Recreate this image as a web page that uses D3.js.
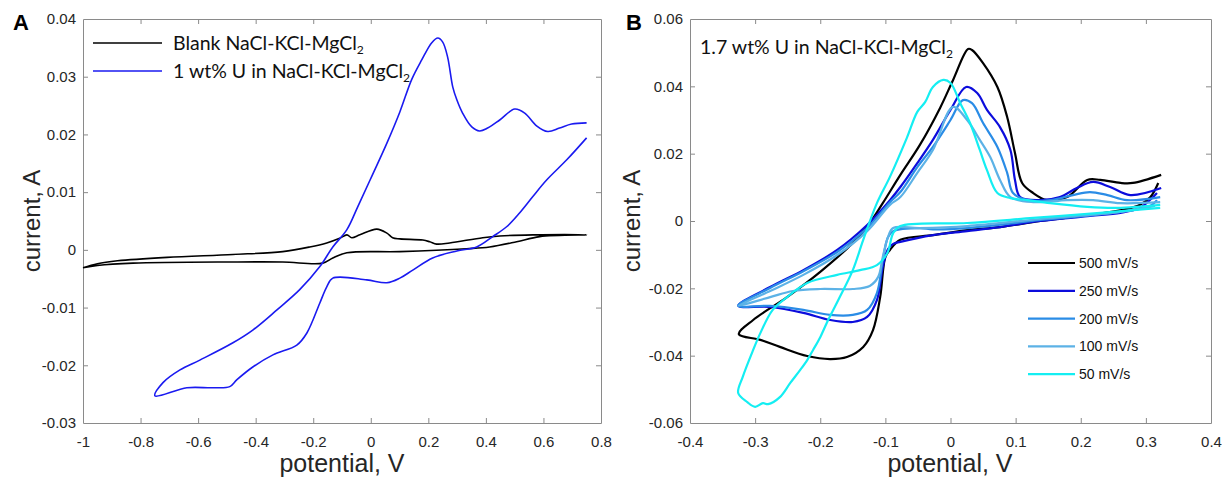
<!DOCTYPE html>
<html>
<head>
<meta charset="utf-8">
<script src="https://cdn.jsdelivr.net/npm/d3@7"></script>
<style>
  html, body { margin: 0; padding: 0; background: #fff; }
  svg { display: block; }
  .tick text { font-family: "Liberation Sans", Arial, sans-serif; font-size: 15px; fill: #262626; }
  .domain, .tick line { stroke: #8a8a8a; }
</style>
</head>
<body>
<div id="chart"></div>
<script>
// ---- panel A : blank salt vs 1 wt% U ----
const aTicksX = [-1, -0.8, -0.6, -0.4, -0.2, 0, 0.2, 0.4, 0.6, 0.8];
const aTicksY = [-0.03, -0.02, -0.01, 0, 0.01, 0.02, 0.03, 0.04];

const aBlankV = [-1.0, -0.95, -0.88, -0.708, -0.479, -0.306, -0.212, -0.153, -0.108, -0.083, -0.066, -0.038, 0.021, 0.056, 0.076, 0.101, 0.181, 0.205, 0.229, 0.274, 0.389, 0.448, 0.5625, 0.75,
                 0.587, 0.507, 0.413, 0.333, 0.101, -0.083, -0.132, -0.167, -0.306, -0.479, -0.826, -0.95, -1.0];
const aBlankI = [-0.0031, -0.0024, -0.0019, -0.0013, -0.0008, -0.0003, 0.0005, 0.0012, 0.0020, 0.0026, 0.0021, 0.0026, 0.0036, 0.0029, 0.0021, 0.0019, 0.0017, 0.0014, 0.0010, 0.0012, 0.0021, 0.0024, 0.0026, 0.0026,
                 0.0023, 0.0014, 0.0005, 0.0002, -0.0003, -0.0005, -0.0014, -0.0023, -0.0021, -0.0021, -0.0023, -0.0027, -0.0031];

const aUV = [0.75, 0.681, 0.611, 0.5625, 0.517, 0.472, 0.424, 0.368, 0.299, 0.215, 0.146, 0.101, 0.056, -0.014, -0.132, -0.153, -0.177, -0.222, -0.257, -0.340, -0.410, -0.465, -0.490, -0.549, -0.639, -0.75,
             -0.722, -0.663, -0.594, -0.479, -0.410, -0.326, -0.247, -0.177, -0.132, -0.083, -0.045, 0.003, 0.056, 0.101, 0.142, 0.177, 0.212, 0.233, 0.250, 0.267, 0.285, 0.299, 0.319, 0.351, 0.378, 0.406, 0.448, 0.500, 0.535, 0.576, 0.615, 0.656, 0.698, 0.75];
const aUI = [0.0194, 0.0156, 0.0121, 0.0092, 0.0064, 0.0040, 0.0023, 0.0005, -0.0002, -0.0014, -0.0035, -0.0049, -0.0057, -0.0052, -0.0049, -0.0064, -0.0092, -0.0144, -0.0165, -0.0182, -0.0203, -0.0225, -0.0237, -0.0239, -0.0239, -0.0253,
             -0.0230, -0.0208, -0.0191, -0.0161, -0.0139, -0.0104, -0.0069, -0.0029, 0.0005, 0.0035, 0.0075, 0.0127, 0.0185, 0.0239, 0.0295, 0.0329, 0.0359, 0.0367, 0.0360, 0.0334, 0.0282, 0.0260, 0.0237, 0.0213, 0.0206, 0.0211, 0.0225, 0.0244, 0.0237, 0.0215, 0.0205, 0.0211, 0.0218, 0.0220];

// ---- panel B : 1.7 wt% U, scan rates ----
const bTicksX = [-0.4, -0.3, -0.2, -0.1, 0, 0.1, 0.2, 0.3, 0.4];
const bTicksY = [-0.06, -0.04, -0.02, 0, 0.02, 0.04, 0.06];
const scanRates = ["500 mV/s", "250 mV/s", "200 mV/s", "100 mV/s", "50 mV/s"];
const scanColors = ["#000000", "#0c0cdc", "#2a8ce6", "#5cb2e6", "#14eef2"];

const b500V = [0.319, 0.307, 0.291, 0.265, 0.214, 0.138, 0.076, 0.0255, -0.027, -0.077, -0.093, -0.100, -0.108, -0.119, -0.134, -0.159, -0.185, -0.220, -0.262, -0.292, -0.325,
               -0.303, -0.251, -0.200, -0.150, -0.124, -0.104, -0.077, -0.047, -0.016, 0.004, 0.027, 0.033, 0.050, 0.072, 0.087, 0.099, 0.110, 0.127, 0.148, 0.179, 0.210, 0.230, 0.261, 0.280, 0.3235];
const b500I = [0.0113, 0.0071, 0.0048, 0.0033, 0.0018, 0.0000, -0.0018, -0.0027, -0.0042, -0.0056, -0.0086, -0.0107, -0.0226, -0.0324, -0.0374, -0.0404, -0.0410, -0.0401, -0.0374, -0.0353, -0.0336,
               -0.0294, -0.0226, -0.0151, -0.0065, -0.0006, 0.0053, 0.0137, 0.0226, 0.0336, 0.0419, 0.0511, 0.0508, 0.0469, 0.0398, 0.0309, 0.0202, 0.0113, 0.0083, 0.0062, 0.0071, 0.0122, 0.0122, 0.0113, 0.0113, 0.0137];

const b250V = [0.317, 0.311, 0.291, 0.261, 0.214, 0.138, 0.076, 0.0255, -0.027, -0.077, -0.088, -0.096, -0.104, -0.113, -0.128, -0.150, -0.185, -0.226, -0.277, -0.326,
               -0.277, -0.226, -0.174, -0.128, -0.093, -0.077, -0.051, -0.027, 0.000, 0.024, 0.041, 0.056, 0.076, 0.092, 0.099, 0.107, 0.138, 0.168, 0.194, 0.219, 0.245, 0.276, 0.3235];
const b250I = [0.0083, 0.0071, 0.0039, 0.0024, 0.0015, 0.0000, -0.0018, -0.0030, -0.0042, -0.0062, -0.0068, -0.0083, -0.0137, -0.0235, -0.0285, -0.0300, -0.0294, -0.0273, -0.0255, -0.0252,
               -0.0196, -0.0146, -0.0086, -0.0012, 0.0062, 0.0101, 0.0172, 0.0241, 0.0330, 0.0398, 0.0380, 0.0330, 0.0279, 0.0211, 0.0122, 0.0071, 0.0062, 0.0071, 0.0098, 0.0116, 0.0101, 0.0077, 0.0098];

const b200V = [0.317, 0.307, 0.261, 0.138, 0.0255, -0.027, -0.047, -0.088, -0.096, -0.104, -0.113, -0.128, -0.150, -0.185, -0.226, -0.277, -0.326,
               -0.277, -0.226, -0.174, -0.128, -0.093, -0.077, -0.051, -0.027, 0.000, 0.019, 0.033, 0.050, 0.072, 0.087, 0.096, 0.118, 0.153, 0.188, 0.214, 0.241, 0.271, 0.322];
const b200I = [0.0062, 0.0045, 0.0027, 0.0003, -0.0021, -0.0025, -0.0021, -0.0030, -0.0048, -0.0116, -0.0214, -0.0264, -0.0279, -0.0279, -0.0264, -0.0252, -0.0252,
               -0.0199, -0.0149, -0.0092, -0.0021, 0.0056, 0.0086, 0.0160, 0.0220, 0.0300, 0.0359, 0.0350, 0.0291, 0.0220, 0.0143, 0.0083, 0.0062, 0.0062, 0.0077, 0.0086, 0.0077, 0.0062, 0.0071];

const b100V = [0.314, 0.261, 0.138, 0.0255, -0.047, -0.088, -0.096, -0.104, -0.111, -0.124, -0.150, -0.200, -0.242, -0.277, -0.326,
               -0.277, -0.226, -0.174, -0.128, -0.093, -0.077, -0.051, -0.027, 0.004, 0.0255, 0.045, 0.061, 0.076, 0.092, 0.127, 0.179, 0.219, 0.261, 0.322];
const b100I = [0.0045, 0.0027, 0.0006, -0.0015, -0.0021, -0.0021, -0.0048, -0.0107, -0.0166, -0.0193, -0.0202, -0.0202, -0.0208, -0.0226, -0.0252,
               -0.0208, -0.0160, -0.0101, -0.0030, 0.0048, 0.0071, 0.0143, 0.0211, 0.0339, 0.0300, 0.0241, 0.0190, 0.0122, 0.0071, 0.0056, 0.0062, 0.0062, 0.0053, 0.0056];

const b50V = [0.322, 0.230, 0.127, 0.0255, -0.077, -0.088, -0.097, -0.113, -0.139, -0.174, -0.220, -0.251, -0.273, -0.292, -0.303, -0.319, -0.326,
              -0.312, -0.300, -0.288, -0.280, -0.262, -0.246, -0.231, -0.220, -0.211, -0.200, -0.190, -0.170, -0.150, -0.134, -0.113, -0.093, -0.067, -0.051, -0.039, -0.027, -0.011, 0.000, 0.015, 0.030, 0.045, 0.056, 0.072, 0.092, 0.118, 0.153, 0.210, 0.256, 0.322];
const b50I = [0.0039, 0.0024, 0.0009, -0.0006, -0.0015, -0.0036, -0.0095, -0.0131, -0.0146, -0.0160, -0.0184, -0.0226, -0.0264, -0.0333, -0.0383, -0.0463, -0.0511,
              -0.0538, -0.0552, -0.0541, -0.0544, -0.0523, -0.0481, -0.0443, -0.0413, -0.0383, -0.0345, -0.0303, -0.0226, -0.0146, -0.0056, 0.0053, 0.0131, 0.0247, 0.0324, 0.0353, 0.0398, 0.0419, 0.0410, 0.0350, 0.0291, 0.0211, 0.0151, 0.0083, 0.0068, 0.0062, 0.0053, 0.0042, 0.0039, 0.0048];

const bSeriesV = [b500V, b250V, b200V, b100V, b50V];
const bSeriesI = [b500I, b250I, b200I, b100I, b50I];

const width = 1222, height = 479;
const svg = d3.select("#chart").append("svg").attr("width", width).attr("height", height);

const zip = (v, i) => v.map((d, k) => [d, i[k]]);
const labelFont = '"Liberation Sans", Arial, sans-serif';
const legendFont = 'Lato, "Open Sans", sans-serif';
// plain hyphen for negatives, like the original figure
const fmt = d => String(+d.toFixed(2));

function drawAxes(x, y, ticksX, ticksY) {
  const g = svg.append("g");
  const bottom = y.range()[0], top = y.range()[1];
  const left = x.range()[0], right = x.range()[1];
  g.append("g").attr("transform", `translate(0,${bottom})`)
    .call(d3.axisBottom(x).tickValues(ticksX).tickSizeInner(-5).tickSizeOuter(0).tickPadding(13).tickFormat(fmt));
  g.append("g").attr("transform", `translate(0,${top})`)
    .call(d3.axisTop(x).tickValues(ticksX).tickSizeInner(-5).tickSizeOuter(0).tickFormat(""));
  g.append("g").attr("transform", `translate(${left},0)`)
    .call(d3.axisLeft(y).tickValues(ticksY).tickSizeInner(-5).tickSizeOuter(0).tickPadding(7).tickFormat(fmt));
  g.append("g").attr("transform", `translate(${right},0)`)
    .call(d3.axisRight(y).tickValues(ticksY).tickSizeInner(-5).tickSizeOuter(0).tickFormat(""));
  // drop tick marks that sit on the frame corners
  g.selectAll(".tick").filter(d => d === ticksX[0] || d === ticksX[ticksX.length - 1] || d === ticksY[0] || d === ticksY[ticksY.length - 1])
    .select("line").remove();
  return g;
}

function axisTitles(x, y, cx, yTitleX) {
  svg.append("text").attr("x", cx).attr("y", 472).attr("text-anchor", "middle")
    .attr("font-family", labelFont).attr("font-size", 25).attr("fill", "#262626").text("potential, V");
  const cy = (y.range()[0] + y.range()[1]) / 2;
  svg.append("text").attr("transform", `translate(${yTitleX},${cy}) rotate(-90)`).attr("text-anchor", "middle")
    .attr("font-family", labelFont).attr("font-size", 24).attr("fill", "#262626").text("current, A");
}

function subText(sel, main) {
  sel.append("tspan").text(main);
  sel.append("tspan").attr("font-size", "0.62em").attr("dy", "0.3em").text("2");
}

// ---------- Panel A ----------
const xA = d3.scaleLinear().domain([-1, 0.8]).range([83, 601]);
const yA = d3.scaleLinear().domain([-0.03, 0.04]).range([423, 19]);
drawAxes(xA, yA, aTicksX, aTicksY);
axisTitles(xA, yA, 342, 40);

const lineA = d3.line().x(d => xA(d[0])).y(d => yA(d[1])).curve(d3.curveCatmullRom.alpha(0.5));
svg.append("path").datum(zip(aBlankV, aBlankI)).attr("d", lineA)
  .attr("fill", "none").attr("stroke", "#000").attr("stroke-width", 1.6);
svg.append("path").datum(zip(aUV, aUI)).attr("d", lineA)
  .attr("fill", "none").attr("stroke", "#1a1af0").attr("stroke-width", 1.6);

const legA = [{ text: "Blank NaCl-KCl-MgCl", color: "#000", y: 43 }, { text: "1 wt% U in NaCl-KCl-MgCl", color: "#1a1af0", y: 71 }];
legA.forEach(d => {
  svg.append("line").attr("x1", 93).attr("x2", 162).attr("y1", d.y).attr("y2", d.y)
    .attr("stroke", d.color).attr("stroke-width", 1.6);
  const t = svg.append("text").attr("x", 173).attr("y", d.y + 7)
    .attr("font-family", legendFont).attr("font-size", 19.5).attr("fill", "#111");
  subText(t, d.text);
});

svg.append("text").attr("x", 13).attr("y", 30).attr("font-family", labelFont)
  .attr("font-weight", "bold").attr("font-size", 22).text("A");

// ---------- Panel B ----------
const xB = d3.scaleLinear().domain([-0.4, 0.4]).range([690, 1211]);
const yB = d3.scaleLinear().domain([-0.06, 0.06]).range([423, 19]);
drawAxes(xB, yB, bTicksX, bTicksY);
axisTitles(xB, yB, 950, 640);

const lineB = d3.line().x(d => xB(d[0])).y(d => yB(d[1])).curve(d3.curveCatmullRom.alpha(0.5));
bSeriesV.forEach((v, k) => {
  svg.append("path").datum(zip(v, bSeriesI[k])).attr("d", lineB)
    .attr("fill", "none").attr("stroke", scanColors[k]).attr("stroke-width", 2.2)
    .attr("stroke-linejoin", "round");
});

const tB = svg.append("text").attr("x", 700).attr("y", 54)
  .attr("font-family", legendFont).attr("font-size", 19.5).attr("fill", "#111");
subText(tB, "1.7 wt% U in NaCl-KCl-MgCl");

scanRates.forEach((s, k) => {
  const yy = 263 + k * 27.8;
  svg.append("line").attr("x1", 1028).attr("x2", 1075).attr("y1", yy).attr("y2", yy)
    .attr("stroke", scanColors[k]).attr("stroke-width", 2.2);
  svg.append("text").attr("x", 1079).attr("y", yy + 5).attr("font-family", labelFont)
    .attr("font-size", 14).attr("fill", "#111").text(s);
});

svg.append("text").attr("x", 626).attr("y", 30).attr("font-family", labelFont)
  .attr("font-weight", "bold").attr("font-size", 22).text("B");
</script>
</body>
</html>
